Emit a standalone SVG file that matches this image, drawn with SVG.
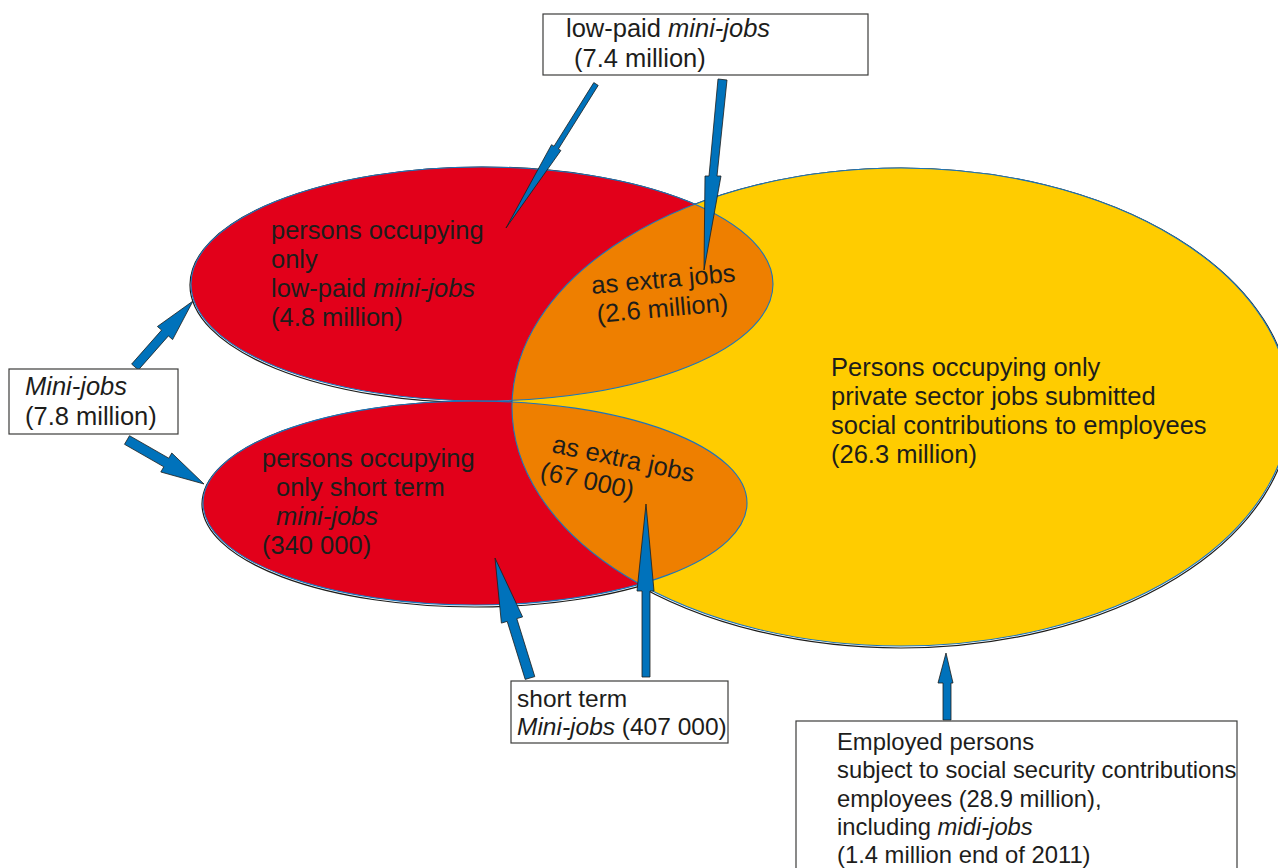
<svg xmlns="http://www.w3.org/2000/svg" width="1278" height="868" viewBox="0 0 1278 868">
<style>
text{font-family:"Liberation Sans",Arial,Helvetica,sans-serif;fill:#1d1d1b;font-size:25.5px}
.it{font-style:italic}
.shadow{fill:none;stroke:#1d1d1b;stroke-width:1.2}
.outline{fill:none;stroke:#1b75bb;stroke-width:1.1}
.red{fill:#e2001a}
.yellow{fill:#ffcc00}
.orange{fill:#ee7f00}
.box{fill:#ffffff;stroke:#3c3c3b;stroke-width:1.2}
.arrow{fill:#0072bb;stroke:#1d1d1b;stroke-width:0.8;stroke-linejoin:miter}
</style>
<defs>
<clipPath id="clipY"><ellipse cx="901" cy="407" rx="389" ry="239"/></clipPath>
</defs>
<rect width="1278" height="868" fill="#ffffff"/>
<g id="shadows">
<ellipse class="shadow" cx="482" cy="285" rx="292" ry="118"/>
<ellipse class="shadow" cx="475" cy="504" rx="273" ry="103"/>
<ellipse class="shadow" cx="901" cy="408" rx="390" ry="240"/>
</g>
<g id="node-lowpaid-only">
<ellipse class="red" cx="482" cy="284" rx="291" ry="117"/>
<text x="271" y="239">persons occupying</text>
<text x="271" y="268">only</text>
<text x="271" y="297">low-paid <tspan class="it">mini-jobs</tspan></text>
<text x="271" y="326">(4.8 million)</text>
</g>
<g id="node-shortterm-only">
<ellipse class="red" cx="475" cy="503" rx="272" ry="102"/>
<text x="262" y="467">persons occupying</text>
<text x="276" y="496">only short term</text>
<text x="276" y="525" class="it">mini-jobs</text>
<text x="262" y="554">(340 000)</text>
</g>
<g id="node-social-only">
<ellipse class="yellow" cx="901" cy="407" rx="389" ry="239"/>
<text x="831" y="376">Persons occupying only</text>
<text x="831" y="405">private sector jobs submitted</text>
<text x="831" y="434">social contributions to employees</text>
<text x="831" y="463">(26.3 million)</text>
</g>
<g id="node-lowpaid-extra">
<ellipse class="orange" cx="482" cy="284" rx="291" ry="117" clip-path="url(#clipY)"/>
<g transform="rotate(-5 592 294)">
<text x="592" y="294">as extra jobs</text>
<text x="595" y="323">(2.6 million)</text>
</g>
</g>
<g id="node-shortterm-extra">
<ellipse class="orange" cx="475" cy="503" rx="272" ry="102" clip-path="url(#clipY)"/>
<g transform="rotate(12 551 452)">
<text x="551" y="452">as extra jobs</text>
<text x="545" y="481">(67 000)</text>
</g>
</g>
<g id="outlines">
<ellipse class="outline" cx="482" cy="284" rx="291" ry="117"/>
<ellipse class="outline" cx="475" cy="503" rx="272" ry="102"/>
<ellipse class="outline" cx="901" cy="407" rx="389" ry="239"/>
</g>
<g id="connectors">
<polygon class="arrow" points="593.8,82.6 598.2,85.4 558.4,149 560.9,150.5 506,228 551.5,144.7 554,146.2"/>
<polygon class="arrow" points="718,79 727,80 717,176 721,176 704,270 705,176 709,176"/>
<polygon class="arrow" points="131.6,364.1 138.4,369.9 168.4,335.9 172.6,339.6 193,301 157.4,326.5 161.6,330.1"/>
<polygon class="arrow" points="124.5,444.3 163.8,466.8 160.8,472 204,484 171.8,453 168.8,458.2 129.5,435.7"/>
<polygon class="arrow" points="534.8,676.6 516.8,618.6 522.6,616.9 495,558 501.4,623.1 507.2,621.4 525.2,679.4"/>
<polygon class="arrow" points="642,677 650,677 650,591 654,591 646,504 637,591 642,591"/>
<polygon class="arrow" points="943,720 951,720 951,683 953,683 946,653 938,683 943,683"/>
</g>
<g id="node-lowpaid-total">
<rect class="box" x="543" y="14" width="325" height="61"/>
<text x="566" y="37">low-paid <tspan class="it">mini-jobs</tspan></text>
<text x="574" y="67">(7.4 million)</text>
</g>
<g id="node-minijobs-total">
<rect class="box" x="9" y="369" width="169" height="65"/>
<text x="25" y="395" class="it">Mini-jobs</text>
<text x="25" y="425">(7.8 million)</text>
</g>
<g id="node-shortterm-total">
<rect class="box" x="511" y="681" width="217" height="62"/>
<text x="517" y="707" style="font-size:24.5px">short term</text>
<text x="517" y="735" style="font-size:24.5px"><tspan class="it">Mini-jobs</tspan> (407 000)</text>
</g>
<g id="node-employed-total">
<rect class="box" x="796" y="721" width="441" height="160"/>
<text x="837" y="750" style="font-size:23.8px">Employed persons</text>
<text x="837" y="778" style="font-size:23.8px">subject to social security contributions</text>
<text x="837" y="807" style="font-size:23.8px">employees (28.9 million),</text>
<text x="837" y="835" style="font-size:23.8px">including <tspan class="it">midi-jobs</tspan></text>
<text x="837" y="863" style="font-size:23.8px">(1.4 million end of 2011)</text>
</g>
</svg>
